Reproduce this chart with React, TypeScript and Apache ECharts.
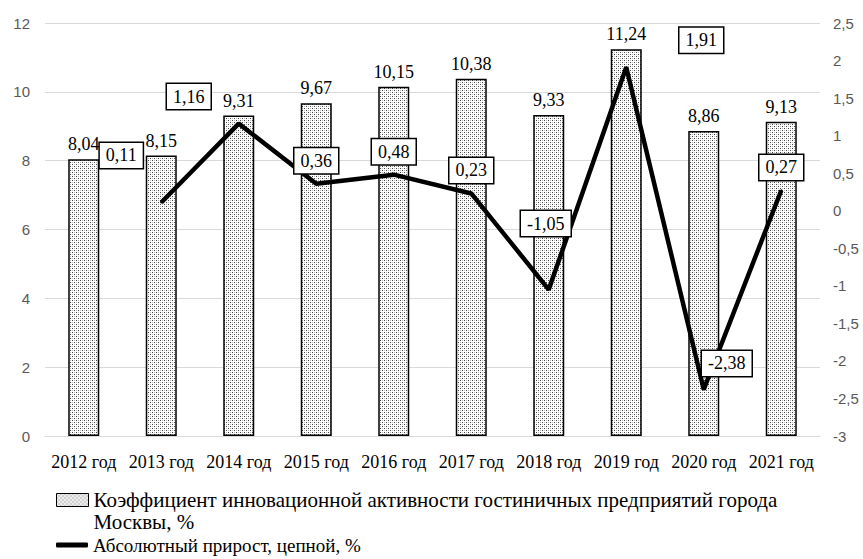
import React, { useEffect, useRef } from 'react';
import * as echarts from 'echarts';

const categories = ['2012 год', '2013 год', '2014 год', '2015 год', '2016 год', '2017 год', '2018 год', '2019 год', '2020 год', '2021 год'];
const innovationCoef = [8.04, 8.15, 9.31, 9.67, 10.15, 10.38, 9.33, 11.24, 8.86, 9.13];
const absGrowth: (number | null)[] = [null, 0.11, 1.16, 0.36, 0.48, 0.23, -1.05, 1.91, -2.38, 0.27];
const leftAxis = { min: 0, max: 12, interval: 2 };
const rightAxis = { min: -3, max: 2.5, interval: 0.5 };
const barName = 'Коэффициент инновационной активности гостиничных предприятий города Москвы, %';
const lineName = 'Абсолютный прирост, цепной, %';

// label placement offsets (layout, not data)
const lineLabelOffsets = [[0, 0], [-40, -47], [-50, -27], [0, -23], [0, -23], [0, -23], [-3, -66], [75, -27], [23, -26], [0, -23]];

const fmt = (v: number) => String(v).replace('.', ',');
const SERIF = '"Liberation Serif", "Times New Roman", serif';
const SANS = '"Liberation Sans", Arial, sans-serif';

function makePattern() {
  const c = document.createElement('canvas');
  c.width = 4;
  c.height = 4;
  const ctx = c.getContext('2d')!;
  ctx.fillStyle = '#ffffff';
  ctx.fillRect(0, 0, 4, 4);
  ctx.fillStyle = '#444444';
  ctx.fillRect(0, 0, 1, 1);
  ctx.fillRect(2, 2, 1, 1);
  ctx.fillStyle = '#bbbbbb';
  ctx.fillRect(2, 0, 1, 1);
  ctx.fillRect(0, 2, 1, 1);
  return c;
}

export default function App() {
  const ref = useRef<HTMLDivElement>(null);
  useEffect(() => {
    if (!ref.current) return;
    const chart = echarts.init(ref.current, undefined, { renderer: 'svg' });
    const pattern = { image: makePattern(), repeat: 'repeat' } as any;
    chart.setOption({
      animation: false,
      backgroundColor: '#ffffff',
      grid: { left: 45, right: 43, top: 23, bottom: 123 },
      legend: [
        {
          data: [barName],
          orient: 'vertical',
          left: 56,
          top: 467,
          padding: 0,
          itemWidth: 32,
          itemHeight: 13,
          icon: 'rect',
          itemStyle: { color: pattern, borderColor: '#000', borderWidth: 1 },
          formatter: (n: string) => '\n' + n.replace(' Москвы', '\nМосквы'),
          textStyle: { fontFamily: SERIF, fontSize: 21, color: '#000', lineHeight: 22 },
        },
        {
          data: [lineName],
          orient: 'vertical',
          left: 56,
          top: 534,
          padding: 0,
          itemWidth: 32,
          itemHeight: 5,
          icon: 'roundRect',
          itemStyle: { color: '#000' },
          textStyle: { fontFamily: SERIF, fontSize: 19, color: '#000', lineHeight: 22 },
        },
      ],
      xAxis: {
        type: 'category',
        data: categories,
        axisLine: { lineStyle: { color: '#d9d9d9', width: 1 } },
        axisTick: { show: false },
        axisLabel: { fontFamily: SERIF, fontSize: 18, color: '#000', margin: 17, interval: 0 },
      },
      yAxis: [
        {
          type: 'value',
          ...leftAxis,
          axisLine: { show: false },
          axisTick: { show: false },
          splitLine: { lineStyle: { color: '#d9d9d9', width: 1 } },
          axisLabel: { fontFamily: SANS, fontSize: 15, color: '#595959', margin: 15 },
        },
        {
          type: 'value',
          ...rightAxis,
          axisLine: { show: false },
          axisTick: { show: false },
          splitLine: { show: false },
          axisLabel: { fontFamily: SANS, fontSize: 15, color: '#595959', margin: 13, formatter: (v: number) => fmt(v) },
        },
      ],
      series: [
        {
          name: barName,
          type: 'bar',
          yAxisIndex: 0,
          barWidth: 31,
          data: innovationCoef,
          itemStyle: { color: pattern, borderColor: '#000', borderWidth: 1.5 },
          label: {
            show: true,
            position: 'top',
            distance: 6,
            fontFamily: SERIF,
            fontSize: 18,
            color: '#000',
            formatter: (p: any) => fmt(p.value),
          },
        },
        {
          name: lineName,
          type: 'line',
          yAxisIndex: 1,
          symbol: 'circle',
          symbolSize: 2,
          showSymbol: true,
          itemStyle: { color: '#000' },
          lineStyle: { color: '#000', width: 4.5 },
          data: absGrowth.map((v, i) =>
            v == null ? '-' : { value: v, label: { offset: lineLabelOffsets[i] } }
          ),
          label: {
            show: true,
            position: 'inside',
            fontFamily: SERIF,
            fontSize: 18,
            color: '#000',
            backgroundColor: '#fff',
            borderColor: '#000',
            borderWidth: 1.5,
            padding: [4, 6, 3, 6],
            formatter: (p: any) => fmt(p.value),
          },
          z: 3,
        },
      ],
    });
    return () => chart.dispose();
  }, []);
  return <div ref={ref} style={{ position: 'fixed', left: 0, top: 0, width: 863, height: 559 }} />;
}
